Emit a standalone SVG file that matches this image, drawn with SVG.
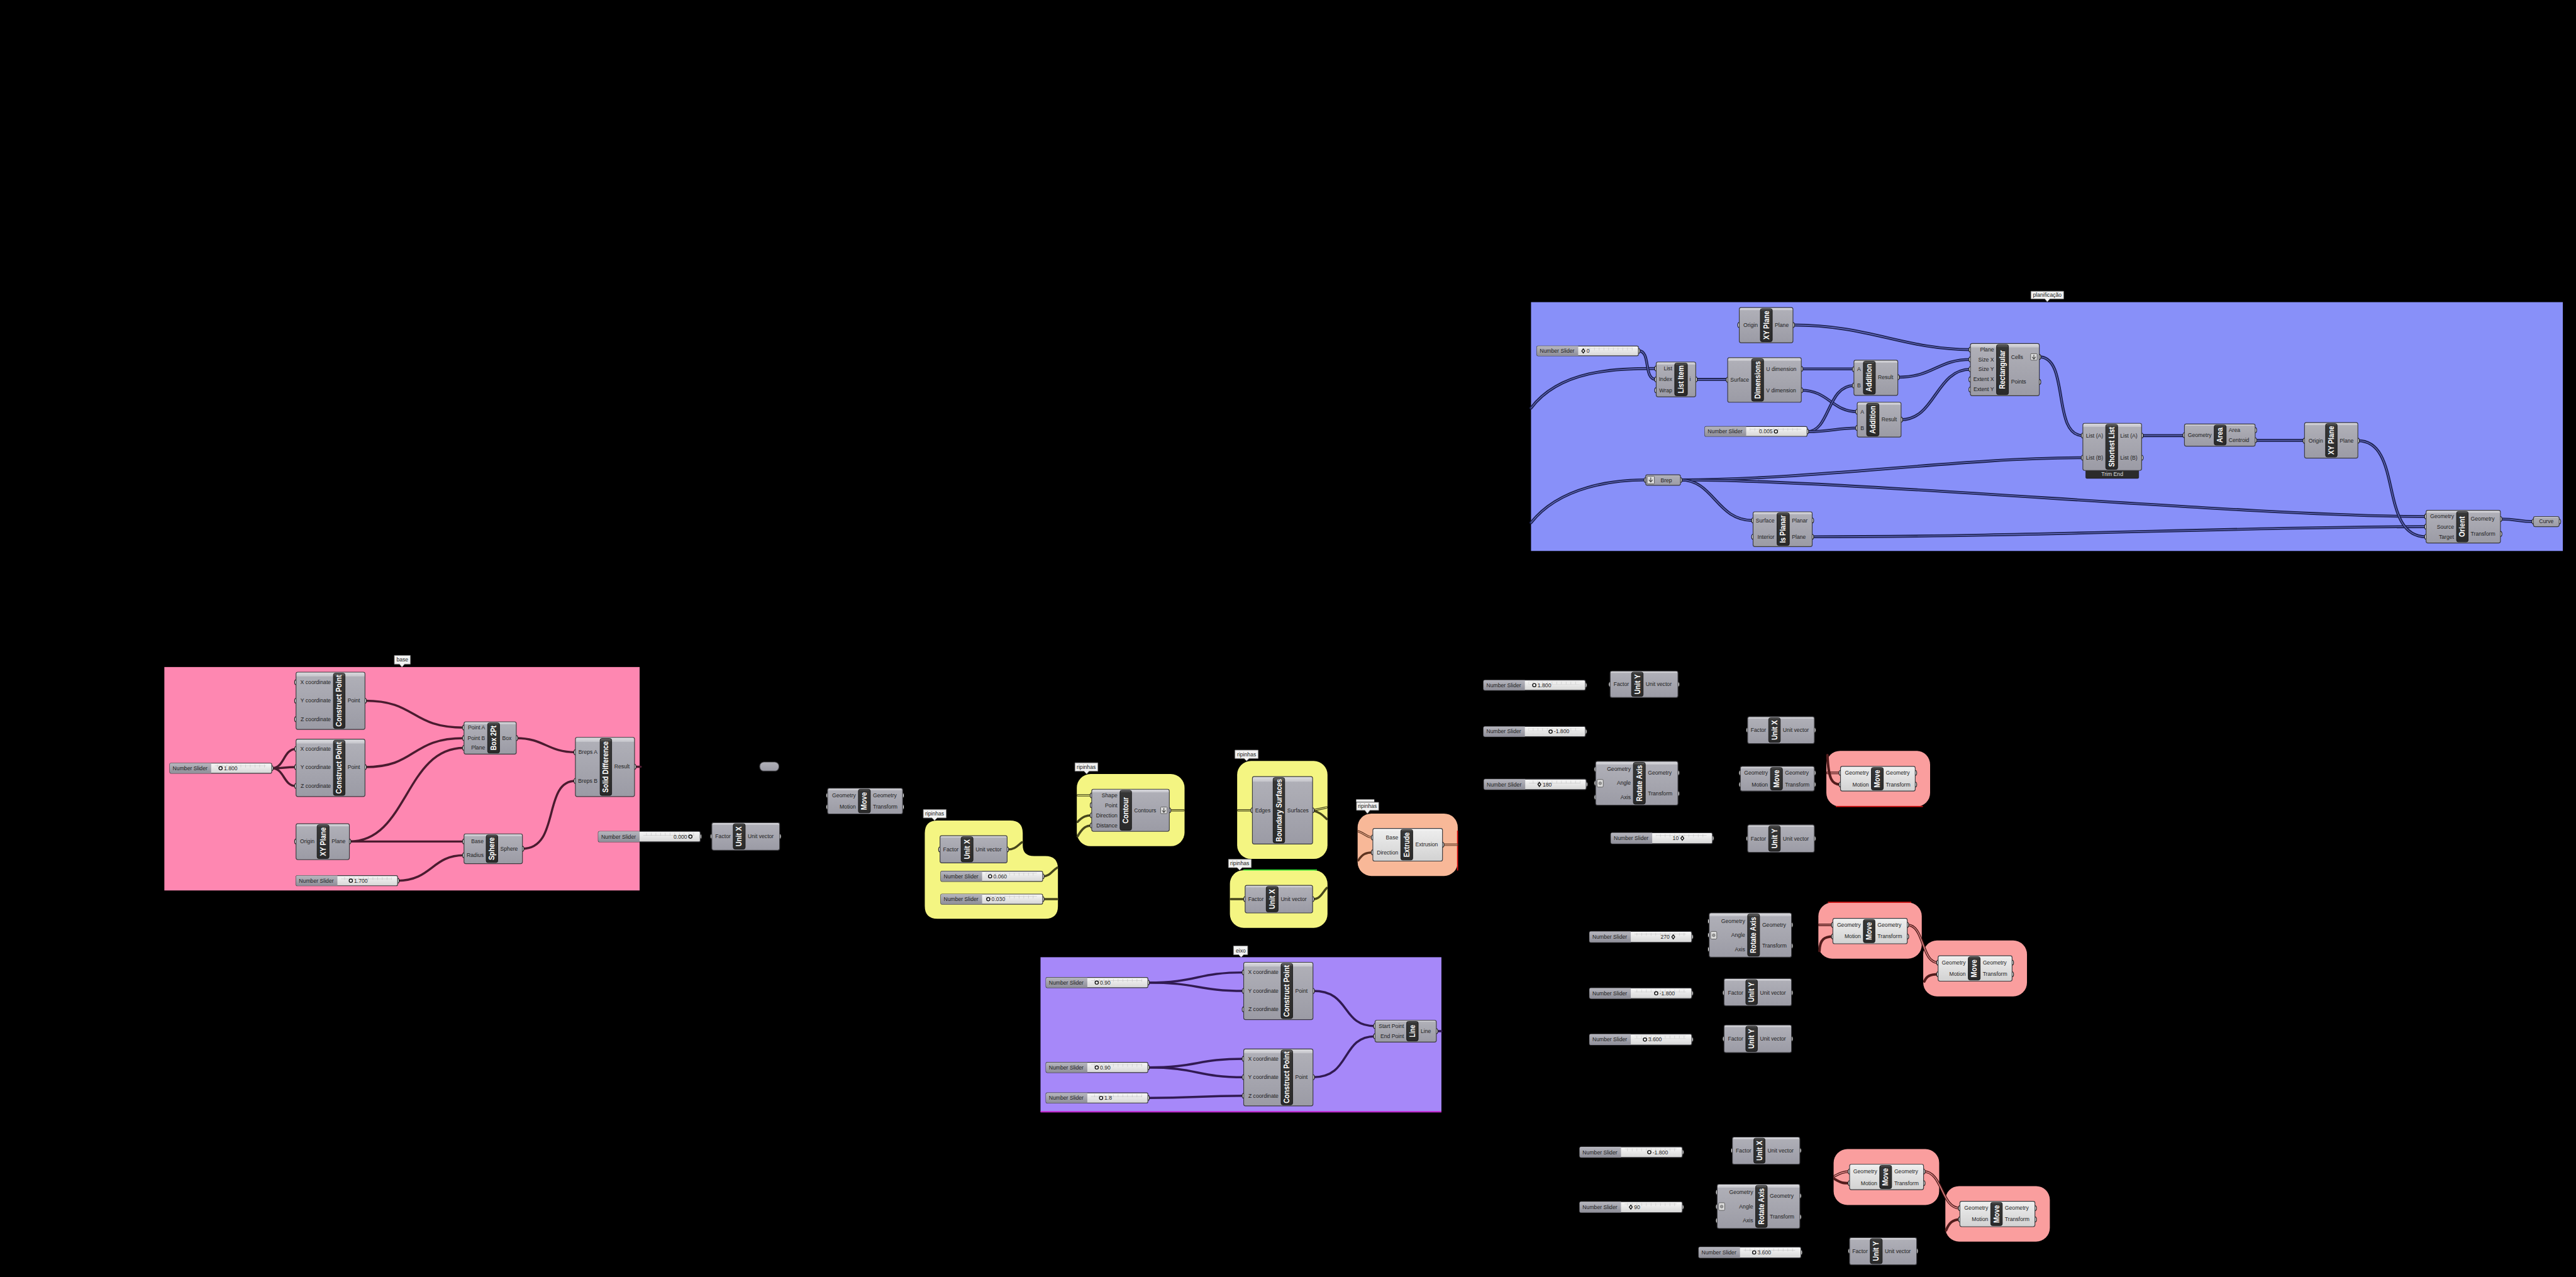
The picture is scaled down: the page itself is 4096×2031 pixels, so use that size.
<svg xmlns="http://www.w3.org/2000/svg" width="4096" height="2031" viewBox="0 0 4096 2031">
<defs>
<linearGradient id="gN" x1="0" y1="0" x2="0" y2="1"><stop offset="0" stop-color="#dedee2"/><stop offset="0.07" stop-color="#c6c6cc"/><stop offset="0.08" stop-color="#afafb7"/><stop offset="1" stop-color="#9b9ba5"/></linearGradient>
<linearGradient id="gL" x1="0" y1="0" x2="0" y2="1"><stop offset="0" stop-color="#fbfbfb"/><stop offset="0.08" stop-color="#ececec"/><stop offset="1" stop-color="#d2d2d2"/></linearGradient>
<linearGradient id="gB" x1="0" y1="0" x2="0" y2="1"><stop offset="0" stop-color="#6a6a6a"/><stop offset="0.06" stop-color="#363636"/><stop offset="1" stop-color="#2a2a2a"/></linearGradient>
<linearGradient id="gV" x1="0" y1="0" x2="0" y2="1"><stop offset="0" stop-color="#f8f8f8"/><stop offset="1" stop-color="#d6d6d6"/></linearGradient>
<linearGradient id="gS" x1="0" y1="0" x2="0" y2="1"><stop offset="0" stop-color="#b6b6be"/><stop offset="1" stop-color="#8e8e98"/></linearGradient>
<pattern id="tk" width="13" height="8" patternUnits="userSpaceOnUse"><path d="M0.5,0 V8 M0,7.5 H13" stroke="#b4b4b4" stroke-width="1" fill="none"/></pattern>
<style>
text{font-family:"Liberation Sans",Arial,sans-serif}
.pl{font-size:15px;fill:#1e1e1e}
.pr{font-size:15px;fill:#1e1e1e;text-anchor:end}
.pc{font-size:15px;fill:#1e1e1e;text-anchor:middle}
.bt{font-size:21px;font-weight:bold;fill:#fff;text-anchor:middle}
.tg{font-size:15px;fill:#222;text-anchor:middle}
.nb{fill:url(#gN);stroke:#3a3a3e;stroke-width:2}
.nl{fill:url(#gL);stroke:#3a3a3e;stroke-width:2}
.bar{fill:url(#gB);stroke:#141414;stroke-width:1.5}
.pt{fill:#fff;stroke:#1a1a1a;stroke-width:2}
.sv{fill:url(#gV);stroke:#3a3a3e;stroke-width:2}
.sl{fill:url(#gS)}
.tkr{fill:url(#tk)}
.mk{fill:#fff;stroke:#111;stroke-width:2.5}
.tag{fill:#f2f2f2;stroke:#8a8a8a;stroke-width:1.5}
.ico{fill:#dadada;stroke:#555;stroke-width:1.5}
.arr{fill:none;stroke:#444;stroke-width:2}
.w{fill:none;stroke-linecap:round}
.wp{stroke:#4a1b2f;stroke-width:6}
.wbo{stroke:#1f2452;stroke-width:8}
.wbi{stroke:#7078d8;stroke-width:1.8}
.wu{stroke:#311a52;stroke-width:6}
.wy{stroke:#46461c;stroke-width:6}
.wyi{stroke:#f4f582;stroke-width:2}
.wr{stroke:#521c1c;stroke-width:7}
.wri{stroke:#fa9e9e;stroke-width:2}
.ws{stroke:#5e3420;stroke-width:6}
.wsi{stroke:#f8b898;stroke-width:2}
</style>
</defs>
<rect x="0" y="0" width="4096" height="2031" fill="#000"/>
<g transform="scale(0.57688)">

<!-- GROUP BACKGROUNDS -->
<g id="groups">
<rect id="grp_planificacao" x="4220" y="833" width="2844" height="686" fill="#8890f9"/>
<rect id="grp_base" x="453" y="1839" width="1310" height="616" fill="#fe87b1"/>
<rect id="grp_eixo" x="2868" y="2639" width="1105" height="426" fill="#a688f9"/>
<rect x="2868" y="3063" width="1105" height="4" fill="#c030d0"/>
<path id="grp_ripinhas1" d="M2584,2262 H2784 Q2819,2262 2819,2297 V2330 Q2819,2360 2850,2360 H2881 Q2916,2360 2916,2395 V2498 Q2916,2533 2881,2533 H2584 Q2549,2533 2549,2498 V2297 Q2549,2262 2584,2262 Z" fill="#f4f582"/>
<rect id="grp_ripinhas2" x="2968" y="2134" width="297" height="199" rx="38" fill="#f4f582"/>
<rect id="grp_ripinhas3" x="3410" y="2098" width="249" height="270" rx="38" fill="#f4f582"/>
<rect id="grp_ripinhas4" x="3390" y="2399" width="269" height="159" rx="38" fill="#f4f582"/>
<rect x="3427" y="2397" width="203" height="3" fill="#30e030"/>
<rect id="grp_ripinhas5" x="3742" y="2243" width="276" height="172" rx="38" fill="#f8b898"/>
<rect x="4016" y="2290" width="3" height="110" fill="#e01010"/>
<rect id="grp_red1" x="5034" y="2070" width="286" height="154" rx="38" fill="#fa9e9e"/>
<rect x="5060" y="2222" width="240" height="3" fill="#d01010"/>
<rect id="grp_red2" x="5012" y="2488" width="285" height="155" rx="38" fill="#fa9e9e"/>
<rect x="5038" y="2486" width="230" height="3" fill="#d01010"/>
<rect id="grp_red3" x="5301" y="2593" width="286" height="154" rx="38" fill="#fa9e9e"/>
<rect id="grp_red4" x="5054" y="3168" width="291" height="154" rx="38" fill="#fa9e9e"/>
<rect id="grp_red5" x="5362" y="3270" width="288" height="153" rx="38" fill="#fa9e9e"/>
</g>

<!-- GROUP TAGS -->
<g id="tags">
<g id="tag_planificacao"><path class="tag" d="M5598,803 H5688 V824 H5650 L5643,832 L5636,824 H5598 Z"/><text class="tg" x="5643" y="819">planificação</text></g>
<g id="tag_base"><path class="tag" d="M1087,1807 H1131 V1831 H1115 L1108,1839 L1101,1831 H1087 Z"/><text class="tg" x="1109" y="1824">base</text></g>
<g id="tag_rip1"><path class="tag" d="M2545,2232 H2608 V2255 H2583 L2576,2262 L2569,2255 H2545 Z"/><text class="tg" x="2576" y="2249">ripinhas</text></g>
<g id="tag_rip2"><path class="tag" d="M2963,2103 H3026 V2126 H3002 L2995,2134 L2988,2126 H2963 Z"/><text class="tg" x="2994" y="2120">ripinhas</text></g>
<g id="tag_rip3"><path class="tag" d="M3404,2068 H3468 V2091 H3443 L3436,2098 L3429,2091 H3404 Z"/><text class="tg" x="3436" y="2085">ripinhas</text></g>
<g id="tag_rip4"><path class="tag" d="M3386,2369 H3449 V2392 H3424 L3417,2399 L3410,2392 H3386 Z"/><text class="tg" x="3417" y="2386">ripinhas</text></g>
<g id="tag_rip5"><rect x="3738" y="2204" width="50" height="7" fill="#eee"/><path class="tag" d="M3739,2212 H3800 V2234 H3776 L3769,2243 L3762,2234 H3739 Z"/><text class="tg" x="3769" y="2228">ripinhas</text></g>
<g id="tag_eixo"><path class="tag" d="M3400,2608 H3439 V2632 H3428 L3421,2639 L3414,2632 H3400 Z"/><text class="tg" x="3420" y="2626">eixo</text></g>
</g>

<!-- CONNECTORS -->
<g id="connectors" class="w">
<path class="w wbo" d="M4220,1125 C4300,1020 4450,1016 4565,1016"/><path class="w wbi" d="M4220,1125 C4300,1020 4450,1016 4565,1016"/>
<path class="w wbo" d="M4516,967 C4552,967 4528,1046 4565,1046"/><path class="w wbi" d="M4516,967 C4552,967 4528,1046 4565,1046"/>
<path class="w wbo" d="M4674,1046 H4762"/><path class="w wbi" d="M4674,1046 H4762"/>
<path class="w wbo" d="M4965,1017 H5110"/><path class="w wbi" d="M4965,1017 H5110"/>
<path class="w wbo" d="M4965,1076 C5040,1076 5050,1135 5119,1135"/><path class="w wbi" d="M4965,1076 C5040,1076 5050,1135 5119,1135"/>
<path class="w wbo" d="M4981,1190 C5045,1190 5035,1063 5110,1063"/><path class="w wbi" d="M4981,1190 C5045,1190 5035,1063 5110,1063"/>
<path class="w wbo" d="M4981,1190 C5050,1190 5060,1180 5119,1180"/><path class="w wbi" d="M4981,1190 C5050,1190 5060,1180 5119,1180"/>
<path class="w wbo" d="M4942,896 C5150,896 5250,964 5432,964"/><path class="w wbi" d="M4942,896 C5150,896 5250,964 5432,964"/>
<path class="w wbo" d="M5231,1040 C5330,1040 5340,991 5432,991"/><path class="w wbi" d="M5231,1040 C5330,1040 5340,991 5432,991"/>
<path class="w wbo" d="M5240,1157 C5335,1157 5335,1018 5432,1018"/><path class="w wbi" d="M5240,1157 C5335,1157 5335,1018 5432,1018"/>
<path class="w wbo" d="M5621,984 C5705,984 5655,1201 5741,1201"/><path class="w wbi" d="M5621,984 C5705,984 5655,1201 5741,1201"/>
<path class="w wbo" d="M4632,1323 C5000,1323 5400,1262 5741,1262"/><path class="w wbi" d="M4632,1323 C5000,1323 5400,1262 5741,1262"/>
<path class="w wbo" d="M4632,1323 C5100,1323 6200,1424 6687,1424"/><path class="w wbi" d="M4632,1323 C5100,1323 6200,1424 6687,1424"/>
<path class="w wbo" d="M4632,1323 C4725,1323 4730,1435 4832,1435"/><path class="w wbi" d="M4632,1323 C4725,1323 4730,1435 4832,1435"/>
<path class="w wbo" d="M4220,1441 C4300,1340 4450,1323 4536,1323"/><path class="w wbi" d="M4220,1441 C4300,1340 4450,1323 4536,1323"/>
<path class="w wbo" d="M4995,1480 C5600,1480 6200,1452 6687,1452"/><path class="w wbi" d="M4995,1480 C5600,1480 6200,1452 6687,1452"/>
<path class="w wbo" d="M5903,1201 H6021"/><path class="w wbi" d="M5903,1201 H6021"/>
<path class="w wbo" d="M6216,1214 H6352"/><path class="w wbi" d="M6216,1214 H6352"/>
<path class="w wbo" d="M6499,1215 C6625,1215 6555,1480 6687,1480"/><path class="w wbi" d="M6499,1215 C6625,1215 6555,1480 6687,1480"/>
<path class="w wbo" d="M6892,1431 C6940,1431 6940,1438 6983,1438"/><path class="w wbi" d="M6892,1431 C6940,1431 6940,1438 6983,1438"/>
<path class="w wp" d="M749,2118 C785,2118 780,2065 816,2065"/>
<path class="w wp" d="M749,2118 C785,2118 780,2115 816,2115"/>
<path class="w wp" d="M749,2118 C785,2118 780,2167 816,2167"/>
<path class="w wp" d="M1006,1932 C1150,1932 1130,2006 1279,2006"/>
<path class="w wp" d="M1006,2115 C1150,2115 1130,2035 1279,2035"/>
<path class="w wp" d="M963,2320 C1125,2320 1115,2062 1279,2062"/>
<path class="w wp" d="M963,2320 H1279"/>
<path class="w wp" d="M1096,2428 C1190,2428 1190,2358 1279,2358"/>
<path class="w wp" d="M1423,2035 C1500,2035 1510,2074 1586,2074"/>
<path class="w wp" d="M1440,2340 C1545,2340 1495,2153 1586,2153"/>
<path class="w wp" d="M1749,2114 H1766"/>
<path class="w wu" d="M3164,2709 C3300,2709 3300,2681 3428,2681"/>
<path class="w wu" d="M3164,2709 C3300,2709 3300,2732 3428,2732"/>
<path class="w wu" d="M3164,2943 C3300,2943 3300,2919 3428,2919"/>
<path class="w wu" d="M3164,2943 C3300,2943 3300,2970 3428,2970"/>
<path class="w wu" d="M3164,3027 C3300,3027 3300,3021 3428,3021"/>
<path class="w wu" d="M3619,2732 C3725,2732 3695,2829 3790,2829"/>
<path class="w wu" d="M3619,2970 C3725,2970 3695,2857 3790,2857"/>
<path class="w wu" d="M3959,2843 H3973"/>
<path class="w wy" d="M2776,2342 C2800,2342 2805,2330 2817,2322"/>
<path class="w wy" d="M2874,2416 C2895,2416 2900,2400 2914,2392"/>
<path class="w wy" d="M2874,2479 H2914"/>
<path class="w wy" d="M2970,2193 H3009"/><path class="w wyi" d="M2970,2193 H3009"/>
<path class="w wy" d="M2970,2266 C2985,2250 2995,2248 3009,2248"/>
<path class="w wy" d="M2970,2306 C2985,2280 2995,2276 3009,2276"/>
<path class="w wy" d="M3223,2234 H3263"/><path class="w wyi" d="M3223,2234 H3263"/>
<path class="w wy" d="M3412,2234 H3452"/><path class="w wyi" d="M3412,2234 H3452"/>
<path class="w wy" d="M3618,2234 C3640,2230 3648,2228 3657,2226"/><path class="w wyi" d="M3618,2234 C3640,2230 3648,2228 3657,2226"/>
<path class="w wy" d="M3618,2234 C3640,2240 3648,2250 3657,2258"/>
<path class="w wy" d="M3392,2479 H3432"/>
<path class="w wy" d="M3618,2479 C3640,2479 3645,2460 3657,2448"/>
<path class="w ws" d="M3744,2292 C3765,2300 3770,2309 3784,2309"/><path class="w wsi" d="M3744,2292 C3765,2300 3770,2309 3784,2309"/>
<path class="w ws" d="M3744,2372 C3755,2355 3765,2350 3784,2350"/>
<path class="w ws" d="M3976,2329 H4016"/><path class="w wsi" d="M3976,2329 H4016"/>
<path class="w wr" d="M5036,2131 H5073"/><path class="w wri" d="M5036,2131 H5073"/>
<path class="w wr" d="M5037,2082 C5040,2150 5050,2163 5073,2163"/>
<path class="w wr" d="M5014,2550 H5052"/><path class="w wri" d="M5014,2550 H5052"/>
<path class="w wr" d="M5015,2622 C5016,2588 5030,2582 5052,2582"/>
<path class="w wr" d="M5257,2550 C5305,2550 5295,2654 5342,2654"/><path class="w wri" d="M5257,2550 C5305,2550 5295,2654 5342,2654"/>
<path class="w wr" d="M5304,2706 C5310,2690 5322,2686 5342,2686"/>
<path class="w wr" d="M5056,3243 C5072,3234 5082,3230 5098,3230"/><path class="w wri" d="M5056,3243 C5072,3234 5082,3230 5098,3230"/>
<path class="w wr" d="M5056,3250 C5075,3262 5082,3262 5098,3262"/>
<path class="w wr" d="M5302,3230 C5355,3230 5350,3331 5402,3331"/><path class="w wri" d="M5302,3230 C5355,3230 5350,3331 5402,3331"/>
<path class="w wr" d="M5364,3392 C5372,3372 5382,3362 5402,3362"/>
</g>

<!-- NODES -->
<g id="nodes">
<g id="xy_plane_1">
<ellipse class="pt" cx="4794" cy="896" rx="4" ry="7"/><ellipse class="pt" cx="4942" cy="896" rx="4" ry="7"/>
<rect class="nb" x="4794" y="848" width="148" height="97" rx="5"/>
<rect class="bar" x="4852" y="851" width="33" height="91" rx="5"/>
<text class="bt" transform="translate(4868.5,896.5) rotate(-90)" y="7" textLength="79" lengthAdjust="spacingAndGlyphs">XY Plane</text>
<text class="pr" x="4845" y="901">Origin</text><text class="pl" x="4892" y="901">Plane</text>
</g>
<g id="slider_b0">
<ellipse class="pt" cx="4516" cy="967.5" rx="4" ry="7"/>
<rect class="sv" x="4236" y="954" width="280" height="27" rx="4"/>
<path class="sl" d="M4240,954 H4350 V981 H4240 A4,4 0 0 1 4236,977 V958 A4,4 0 0 1 4240,954 Z"/>
<text class="pl" x="4244" y="973">Number Slider</text>
<rect class="tkr" x="4360" y="958" width="140" height="8"/>
<path class="mk" d="M4364,962 L4368,967.5 L4364,973 L4360,967.5 Z"/>
<text class="pl" x="4373" y="973">0</text>
</g>
<g id="list_item">
<ellipse class="pt" cx="4565" cy="1016" rx="4" ry="7"/><ellipse class="pt" cx="4565" cy="1046" rx="4" ry="7"/><ellipse class="pt" cx="4565" cy="1076" rx="4" ry="7"/><ellipse class="pt" cx="4674" cy="1046" rx="4" ry="7"/>
<rect class="nb" x="4565" y="998" width="109" height="96" rx="5"/>
<rect class="bar" x="4616" y="1001" width="35" height="90" rx="5"/>
<text class="bt" transform="translate(4633.5,1046) rotate(-90)" y="7" textLength="77" lengthAdjust="spacingAndGlyphs">List Item</text>
<text class="pr" x="4609" y="1021">List</text><text class="pr" x="4609" y="1051">Index</text><text class="pr" x="4609" y="1081">Wrap</text>
<text class="pl" x="4657" y="1051">i</text>
</g>
<g id="dimensions">
<ellipse class="pt" cx="4762" cy="1047" rx="4" ry="7"/><ellipse class="pt" cx="4965" cy="1017" rx="4" ry="7"/><ellipse class="pt" cx="4965" cy="1076" rx="4" ry="7"/>
<rect class="nb" x="4762" y="986" width="203" height="123" rx="5"/>
<rect class="bar" x="4828" y="989" width="33" height="117" rx="5"/>
<text class="bt" transform="translate(4844.5,1047.5) rotate(-90)" y="7" textLength="104" lengthAdjust="spacingAndGlyphs">Dimensions</text>
<text class="pr" x="4821" y="1052">Surface</text>
<text class="pl" x="4868" y="1022">U dimension</text><text class="pl" x="4868" y="1081">V dimension</text>
</g>
<g id="addition_1">
<ellipse class="pt" cx="5110" cy="1018" rx="4" ry="7"/><ellipse class="pt" cx="5110" cy="1063" rx="4" ry="7"/><ellipse class="pt" cx="5231" cy="1040" rx="4" ry="7"/>
<rect class="nb" x="5110" y="993" width="121" height="97" rx="5"/>
<rect class="bar" x="5136" y="996" width="33" height="91" rx="5"/>
<text class="bt" transform="translate(5152.5,1041.5) rotate(-90)" y="7" textLength="77" lengthAdjust="spacingAndGlyphs">Addition</text>
<text class="pr" x="5129" y="1023">A</text><text class="pr" x="5129" y="1068">B</text>
<text class="pl" x="5176" y="1045">Result</text>
</g>
<g id="addition_2">
<ellipse class="pt" cx="5119" cy="1135" rx="4" ry="7"/><ellipse class="pt" cx="5119" cy="1180" rx="4" ry="7"/><ellipse class="pt" cx="5240" cy="1157" rx="4" ry="7"/>
<rect class="nb" x="5119" y="1109" width="121" height="96" rx="5"/>
<rect class="bar" x="5145" y="1112" width="34" height="90" rx="5"/>
<text class="bt" transform="translate(5162,1157) rotate(-90)" y="7" textLength="77" lengthAdjust="spacingAndGlyphs">Addition</text>
<text class="pr" x="5138" y="1140">A</text><text class="pr" x="5138" y="1185">B</text>
<text class="pl" x="5186" y="1162">Result</text>
</g>
<g id="slider_b005">
<ellipse class="pt" cx="4981" cy="1189.5" rx="4" ry="7"/>
<rect class="sv" x="4699" y="1176" width="282" height="27" rx="4"/>
<path class="sl" d="M4703,1176 H4813 V1203 H4703 A4,4 0 0 1 4699,1199 V1180 A4,4 0 0 1 4703,1176 Z"/>
<text class="pl" x="4707" y="1195">Number Slider</text>
<rect class="tkr" x="4823" y="1180" width="142" height="8"/>
<circle class="mk" cx="4895" cy="1189.5" r="4.5"/>
<text class="pr" x="4886" y="1195">0.005</text>
</g>
<g id="rectangular">
<ellipse class="pt" cx="5431" cy="964" rx="4" ry="7"/><ellipse class="pt" cx="5431" cy="991" rx="4" ry="7"/><ellipse class="pt" cx="5431" cy="1018" rx="4" ry="7"/><ellipse class="pt" cx="5431" cy="1046" rx="4" ry="7"/><ellipse class="pt" cx="5431" cy="1074" rx="4" ry="7"/><ellipse class="pt" cx="5621" cy="984" rx="4" ry="7"/><ellipse class="pt" cx="5621" cy="1053" rx="4" ry="7"/>
<rect class="nb" x="5431" y="947" width="190" height="144" rx="5"/>
<rect class="bar" x="5503" y="950" width="33" height="138" rx="5"/>
<text class="bt" transform="translate(5519.5,1019) rotate(-90)" y="7" textLength="107" lengthAdjust="spacingAndGlyphs">Rectangular</text>
<text class="pr" x="5496" y="969">Plane</text><text class="pr" x="5496" y="996">Size X</text><text class="pr" x="5496" y="1023">Size Y</text><text class="pr" x="5496" y="1051">Extent X</text><text class="pr" x="5496" y="1079">Extent Y</text>
<text class="pl" x="5543" y="989">Cells</text><text class="pl" x="5543" y="1058">Points</text>
<rect class="ico" x="5597" y="975" width="18" height="18" rx="2"/><path class="arr" d="M5606,978 V989 M5601,984 L5606,990 L5611,984"/>
</g>
<g id="brep_param">
<ellipse class="pt" cx="4536" cy="1323.5" rx="4" ry="7"/><ellipse class="pt" cx="4632" cy="1323.5" rx="4" ry="7"/>
<rect class="nb" x="4536" y="1309" width="96" height="29" rx="5"/>
<rect class="ico" x="4540" y="1313" width="20" height="21" rx="2"/><path class="arr" d="M4550,1316 V1328 M4545,1323 L4550,1329 L4555,1323"/>
<text class="pl" x="4577" y="1329">Brep</text>
</g>
<g id="is_planar">
<ellipse class="pt" cx="4832" cy="1435" rx="4" ry="7"/><ellipse class="pt" cx="4832" cy="1480" rx="4" ry="7"/><ellipse class="pt" cx="4995" cy="1435" rx="4" ry="7"/><ellipse class="pt" cx="4995" cy="1480" rx="4" ry="7"/>
<rect class="nb" x="4832" y="1411" width="163" height="96" rx="5"/>
<rect class="bar" x="4898" y="1414" width="34" height="90" rx="5"/>
<text class="bt" transform="translate(4915,1459) rotate(-90)" y="7" textLength="76" lengthAdjust="spacingAndGlyphs">Is Planar</text>
<text class="pr" x="4891" y="1440">Surface</text><text class="pr" x="4891" y="1485">Interior</text>
<text class="pl" x="4939" y="1440">Planar</text><text class="pl" x="4939" y="1485">Plane</text>
</g>
<g id="shortest_list">
<ellipse class="pt" cx="5741" cy="1201" rx="4" ry="7"/><ellipse class="pt" cx="5741" cy="1262" rx="4" ry="7"/><ellipse class="pt" cx="5903" cy="1201" rx="4" ry="7"/><ellipse class="pt" cx="5903" cy="1262" rx="4" ry="7"/>
<rect x="5749" y="1290" width="146" height="29" rx="3" fill="#2b2b2b" stroke="#111"/>
<text x="5822" y="1313" font-size="15" fill="#dcdcdc" text-anchor="middle">Trim End</text>
<rect class="nb" x="5741" y="1167" width="162" height="130" rx="5"/>
<rect class="bar" x="5804" y="1170" width="33" height="124" rx="5"/>
<text class="bt" transform="translate(5820.5,1232) rotate(-90)" y="7" textLength="110" lengthAdjust="spacingAndGlyphs">Shortest List</text>
<text class="pr" x="5797" y="1206">List (A)</text><text class="pr" x="5797" y="1267">List (B)</text>
<text class="pl" x="5844" y="1206">List (A)</text><text class="pl" x="5844" y="1267">List (B)</text>
</g>
<g id="area">
<ellipse class="pt" cx="6021" cy="1200" rx="4" ry="7"/><ellipse class="pt" cx="6216" cy="1186" rx="4" ry="7"/><ellipse class="pt" cx="6216" cy="1214" rx="4" ry="7"/>
<rect class="nb" x="6021" y="1169" width="195" height="61" rx="5"/>
<rect class="bar" x="6103" y="1172" width="33" height="55" rx="5"/>
<text class="bt" transform="translate(6119.5,1199.5) rotate(-90)" y="7" textLength="42" lengthAdjust="spacingAndGlyphs">Area</text>
<text class="pr" x="6096" y="1205">Geometry</text>
<text class="pl" x="6143" y="1191">Area</text><text class="pl" x="6143" y="1219">Centroid</text>
</g>
<g id="xy_plane_2">
<ellipse class="pt" cx="6352" cy="1215" rx="4" ry="7"/><ellipse class="pt" cx="6499" cy="1215" rx="4" ry="7"/>
<rect class="nb" x="6352" y="1165" width="147" height="98" rx="5"/>
<rect class="bar" x="6410" y="1168" width="32" height="92" rx="5"/>
<text class="bt" transform="translate(6426,1214) rotate(-90)" y="7" textLength="79" lengthAdjust="spacingAndGlyphs">XY Plane</text>
<text class="pr" x="6403" y="1220">Origin</text><text class="pl" x="6449" y="1220">Plane</text>
</g>
<g id="orient">
<ellipse class="pt" cx="6687" cy="1424" rx="4" ry="7"/><ellipse class="pt" cx="6687" cy="1452" rx="4" ry="7"/><ellipse class="pt" cx="6687" cy="1480" rx="4" ry="7"/><ellipse class="pt" cx="6892" cy="1431" rx="4" ry="7"/><ellipse class="pt" cx="6892" cy="1472" rx="4" ry="7"/>
<rect class="nb" x="6687" y="1407" width="205" height="90" rx="5"/>
<rect class="bar" x="6771" y="1410" width="32" height="84" rx="5"/>
<text class="bt" transform="translate(6787,1452) rotate(-90)" y="7" textLength="57" lengthAdjust="spacingAndGlyphs">Orient</text>
<text class="pr" x="6764" y="1429">Geometry</text><text class="pr" x="6764" y="1457">Source</text><text class="pr" x="6764" y="1485">Target</text>
<text class="pl" x="6810" y="1436">Geometry</text><text class="pl" x="6810" y="1477">Transform</text>
</g>
<g id="curve_param">
<ellipse class="pt" cx="6983" cy="1438" rx="4" ry="7"/><ellipse class="pt" cx="7054" cy="1438" rx="4" ry="7"/>
<rect class="nb" x="6983" y="1424" width="71" height="28" rx="5"/>
<text class="pc" x="7018.5" y="1443">Curve</text>
</g>

<g id="construct_point_1">
<ellipse class="pt" cx="816" cy="1881" rx="4" ry="7"/><ellipse class="pt" cx="816" cy="1932" rx="4" ry="7"/><ellipse class="pt" cx="816" cy="1983" rx="4" ry="7"/><ellipse class="pt" cx="1006" cy="1932" rx="4" ry="7"/>
<rect class="nb" x="816" y="1853" width="190" height="158" rx="5"/>
<rect class="bar" x="919" y="1856" width="32" height="152" rx="5"/>
<text class="bt" transform="translate(935,1932) rotate(-90)" y="7" textLength="143" lengthAdjust="spacingAndGlyphs">Construct Point</text>
<text class="pr" x="912" y="1886">X coordinate</text><text class="pr" x="912" y="1937">Y coordinate</text><text class="pr" x="912" y="1988">Z coordinate</text>
<text class="pl" x="958" y="1937">Point</text>
</g>
<g id="construct_point_2">
<ellipse class="pt" cx="816" cy="2065" rx="4" ry="7"/><ellipse class="pt" cx="816" cy="2115" rx="4" ry="7"/><ellipse class="pt" cx="816" cy="2167" rx="4" ry="7"/><ellipse class="pt" cx="1006" cy="2115" rx="4" ry="7"/>
<rect class="nb" x="816" y="2038" width="190" height="158" rx="5"/>
<rect class="bar" x="919" y="2041" width="32" height="152" rx="5"/>
<text class="bt" transform="translate(935,2117) rotate(-90)" y="7" textLength="143" lengthAdjust="spacingAndGlyphs">Construct Point</text>
<text class="pr" x="912" y="2070">X coordinate</text><text class="pr" x="912" y="2120">Y coordinate</text><text class="pr" x="912" y="2172">Z coordinate</text>
<text class="pl" x="958" y="2120">Point</text>
</g>
<g id="slider_p18">
<ellipse class="pt" cx="749" cy="2118" rx="4" ry="7"/>
<rect class="sv" x="468" y="2104" width="281" height="28" rx="4"/>
<path class="sl" d="M472,2104 H582 V2132 H472 A4,4 0 0 1 468,2128 V2108 A4,4 0 0 1 472,2104 Z"/>
<text class="pl" x="476" y="2123">Number Slider</text>
<rect class="tkr" x="592" y="2108" width="141" height="8"/>
<circle class="mk" cx="608" cy="2118" r="4.5"/>
<text class="pl" x="617" y="2123">1.800</text>
</g>
<g id="box_2pt">
<ellipse class="pt" cx="1279" cy="2006" rx="4" ry="7"/><ellipse class="pt" cx="1279" cy="2035" rx="4" ry="7"/><ellipse class="pt" cx="1279" cy="2062" rx="4" ry="7"/><ellipse class="pt" cx="1423" cy="2035" rx="4" ry="7"/>
<rect class="nb" x="1279" y="1990" width="144" height="89" rx="5"/>
<rect class="bar" x="1344" y="1993" width="33" height="83" rx="5"/>
<text class="bt" transform="translate(1360.5,2034.5) rotate(-90)" y="7" textLength="68" lengthAdjust="spacingAndGlyphs">Box 2Pt</text>
<text class="pr" x="1337" y="2011">Point A</text><text class="pr" x="1337" y="2040">Point B</text><text class="pr" x="1337" y="2067">Plane</text>
<text class="pl" x="1384" y="2040">Box</text>
</g>
<g id="solid_difference">
<ellipse class="pt" cx="1586" cy="2074" rx="4" ry="7"/><ellipse class="pt" cx="1586" cy="2153" rx="4" ry="7"/><ellipse class="pt" cx="1749" cy="2114" rx="4" ry="7"/>
<rect class="nb" x="1586" y="2033" width="163" height="163" rx="5"/>
<rect class="bar" x="1654" y="2036" width="32" height="157" rx="5"/>
<text class="bt" transform="translate(1670,2114.5) rotate(-90)" y="7" textLength="141" lengthAdjust="spacingAndGlyphs">Solid Difference</text>
<text class="pr" x="1647" y="2079">Breps A</text><text class="pr" x="1647" y="2158">Breps B</text>
<text class="pl" x="1693" y="2119">Result</text>
</g>
<g id="xy_plane_3">
<ellipse class="pt" cx="816" cy="2320" rx="4" ry="7"/><ellipse class="pt" cx="963" cy="2320" rx="4" ry="7"/>
<rect class="nb" x="816" y="2271" width="147" height="99" rx="5"/>
<rect class="bar" x="874" y="2274" width="33" height="93" rx="5"/>
<text class="bt" transform="translate(890.5,2320.5) rotate(-90)" y="7" textLength="79" lengthAdjust="spacingAndGlyphs">XY Plane</text>
<text class="pr" x="867" y="2325">Origin</text><text class="pl" x="914" y="2325">Plane</text>
</g>
<g id="sphere">
<ellipse class="pt" cx="1279" cy="2320" rx="4" ry="7"/><ellipse class="pt" cx="1279" cy="2358" rx="4" ry="7"/><ellipse class="pt" cx="1440" cy="2340" rx="4" ry="7"/>
<rect class="nb" x="1279" y="2299" width="161" height="82" rx="5"/>
<rect class="bar" x="1340" y="2302" width="32" height="76" rx="5"/>
<text class="bt" transform="translate(1356,2340) rotate(-90)" y="7" textLength="63" lengthAdjust="spacingAndGlyphs">Sphere</text>
<text class="pr" x="1333" y="2325">Base</text><text class="pr" x="1333" y="2363">Radius</text>
<text class="pl" x="1379" y="2345">Sphere</text>
</g>
<g id="slider_p17">
<ellipse class="pt" cx="1096" cy="2428" rx="4" ry="7"/>
<rect class="sv" x="816" y="2414" width="280" height="28" rx="4"/>
<path class="sl" d="M820,2414 H930 V2442 H820 A4,4 0 0 1 816,2438 V2418 A4,4 0 0 1 820,2414 Z"/>
<text class="pl" x="824" y="2433">Number Slider</text>
<rect class="tkr" x="940" y="2418" width="140" height="8"/>
<circle class="mk" cx="967" cy="2428" r="4.5"/>
<text class="pl" x="976" y="2433">1.700</text>
</g>

<g id="slider_000">
<ellipse class="pt" cx="1930" cy="2306.5" rx="4" ry="7"/>
<rect class="sv" x="1649" y="2292" width="281" height="29" rx="4"/>
<path class="sl" d="M1653,2292 H1763 V2321 H1653 A4,4 0 0 1 1649,2317 V2296 A4,4 0 0 1 1653,2292 Z"/>
<text class="pl" x="1657" y="2312">Number Slider</text>
<rect class="tkr" x="1773" y="2296" width="141" height="8"/>
<circle class="mk" cx="1903" cy="2306.5" r="4.5"/>
<text class="pr" x="1894" y="2312">0.000</text>
</g>
<g id="unit_x_1">
<ellipse class="pt" cx="1962" cy="2306" rx="4" ry="7"/><ellipse class="pt" cx="2149" cy="2306" rx="4" ry="7"/>
<rect class="nb" x="1962" y="2268" width="187" height="76" rx="5"/>
<rect class="bar" x="2021" y="2271" width="33" height="70" rx="5"/>
<text class="bt" transform="translate(2037.5,2306) rotate(-90)" y="7" textLength="55" lengthAdjust="spacingAndGlyphs">Unit X</text>
<text class="pr" x="2014" y="2311">Factor</text><text class="pl" x="2061" y="2311">Unit vector</text>
</g>
<g id="empty_param">
<rect class="nb" x="2094" y="2101" width="53" height="25" rx="11"/>
</g>
<g id="move_1">
<ellipse class="pt" cx="2281" cy="2193" rx="4" ry="7"/><ellipse class="pt" cx="2281" cy="2225" rx="4" ry="7"/><ellipse class="pt" cx="2488" cy="2193" rx="4" ry="7"/><ellipse class="pt" cx="2488" cy="2225" rx="4" ry="7"/>
<rect class="nb" x="2281" y="2173" width="207" height="71" rx="5"/>
<rect class="bar" x="2366" y="2176" width="33" height="65" rx="5"/>
<text class="bt" transform="translate(2382.5,2208.5) rotate(-90)" y="7" textLength="49" lengthAdjust="spacingAndGlyphs">Move</text>
<text class="pr" x="2359" y="2198">Geometry</text><text class="pr" x="2359" y="2230">Motion</text>
<text class="pl" x="2406" y="2198">Geometry</text><text class="pl" x="2406" y="2230">Transform</text>
</g>

<g id="unit_x_2">
<ellipse class="pt" cx="2591" cy="2342" rx="4" ry="7"/><ellipse class="pt" cx="2776" cy="2342" rx="4" ry="7"/>
<rect class="nb" x="2591" y="2304" width="185" height="75" rx="5"/>
<rect class="bar" x="2649" y="2307" width="33" height="69" rx="5"/>
<text class="bt" transform="translate(2665.5,2341.5) rotate(-90)" y="7" textLength="55" lengthAdjust="spacingAndGlyphs">Unit X</text>
<text class="pr" x="2642" y="2347">Factor</text><text class="pl" x="2689" y="2347">Unit vector</text>
</g>
<g id="slider_060">
<ellipse class="pt" cx="2874" cy="2416" rx="4" ry="7"/>
<rect class="sv" x="2593" y="2402" width="281" height="28" rx="4"/>
<path class="sl" d="M2597,2402 H2707 V2430 H2597 A4,4 0 0 1 2593,2426 V2406 A4,4 0 0 1 2597,2402 Z"/>
<text class="pl" x="2601" y="2421">Number Slider</text>
<rect class="tkr" x="2717" y="2406" width="141" height="8"/>
<circle class="mk" cx="2729" cy="2416" r="4.5"/>
<text class="pl" x="2738" y="2421">0.060</text>
</g>
<g id="slider_030">
<ellipse class="pt" cx="2874" cy="2479" rx="4" ry="7"/>
<rect class="sv" x="2593" y="2465" width="281" height="28" rx="4"/>
<path class="sl" d="M2597,2465 H2707 V2493 H2597 A4,4 0 0 1 2593,2489 V2469 A4,4 0 0 1 2597,2465 Z"/>
<text class="pl" x="2601" y="2484">Number Slider</text>
<rect class="tkr" x="2717" y="2469" width="141" height="8"/>
<circle class="mk" cx="2724" cy="2479" r="4.5"/>
<text class="pl" x="2733" y="2484">0.030</text>
</g>
<g id="contour">
<ellipse class="pt" cx="3009" cy="2193" rx="4" ry="7"/><ellipse class="pt" cx="3009" cy="2220" rx="4" ry="7"/><ellipse class="pt" cx="3009" cy="2248" rx="4" ry="7"/><ellipse class="pt" cx="3009" cy="2276" rx="4" ry="7"/><ellipse class="pt" cx="3223" cy="2234" rx="4" ry="7"/>
<rect class="nb" x="3009" y="2176" width="214" height="116" rx="5"/>
<rect class="bar" x="3087" y="2179" width="32" height="110" rx="5"/>
<text class="bt" transform="translate(3103,2234) rotate(-90)" y="7" textLength="73" lengthAdjust="spacingAndGlyphs">Contour</text>
<text class="pr" x="3080" y="2198">Shape</text><text class="pr" x="3080" y="2225">Point</text><text class="pr" x="3080" y="2253">Direction</text><text class="pr" x="3080" y="2281">Distance</text>
<text class="pl" x="3126" y="2239">Contours</text>
<rect class="ico" x="3199" y="2225" width="18" height="18" rx="2"/><path class="arr" d="M3208,2228 V2239 M3203,2234 L3208,2240 L3213,2234"/>
</g>
<g id="boundary_surfaces">
<ellipse class="pt" cx="3452" cy="2234" rx="4" ry="7"/><ellipse class="pt" cx="3618" cy="2234" rx="4" ry="7"/>
<rect class="nb" x="3452" y="2141" width="166" height="186" rx="5"/>
<rect class="bar" x="3509" y="2144" width="32" height="180" rx="5"/>
<text class="bt" transform="translate(3525,2234) rotate(-90)" y="7" textLength="173" lengthAdjust="spacingAndGlyphs">Boundary Surfaces</text>
<text class="pr" x="3502" y="2239">Edges</text><text class="pl" x="3548" y="2239">Surfaces</text>
</g>
<g id="unit_x_3">
<ellipse class="pt" cx="3432" cy="2479" rx="4" ry="7"/><ellipse class="pt" cx="3618" cy="2479" rx="4" ry="7"/>
<rect class="nb" x="3432" y="2441" width="186" height="76" rx="5"/>
<rect class="bar" x="3490" y="2444" width="33" height="70" rx="5"/>
<text class="bt" transform="translate(3506.5,2479) rotate(-90)" y="7" textLength="55" lengthAdjust="spacingAndGlyphs">Unit X</text>
<text class="pr" x="3483" y="2484">Factor</text><text class="pl" x="3530" y="2484">Unit vector</text>
</g>
<g id="extrude">
<ellipse class="pt" cx="3784" cy="2309" rx="4" ry="7"/><ellipse class="pt" cx="3784" cy="2350" rx="4" ry="7"/><ellipse class="pt" cx="3976" cy="2329" rx="4" ry="7"/>
<rect class="nl" x="3784" y="2284" width="192" height="90" rx="5"/>
<rect class="bar" x="3861" y="2287" width="33" height="84" rx="5"/>
<text class="bt" transform="translate(3877.5,2329) rotate(-90)" y="7" textLength="68" lengthAdjust="spacingAndGlyphs">Extrude</text>
<text class="pr" x="3854" y="2314">Base</text><text class="pr" x="3854" y="2355">Direction</text>
<text class="pl" x="3901" y="2334">Extrusion</text>
</g>

<g id="slider_e1">
<ellipse class="pt" cx="3164" cy="2709" rx="4" ry="7"/>
<rect class="sv" x="2883" y="2695" width="281" height="28" rx="4"/>
<path class="sl" d="M2887,2695 H2997 V2723 H2887 A4,4 0 0 1 2883,2719 V2699 A4,4 0 0 1 2887,2695 Z"/>
<text class="pl" x="2891" y="2714">Number Slider</text>
<rect class="tkr" x="3007" y="2699" width="141" height="8"/>
<circle class="mk" cx="3023" cy="2709" r="4.5"/>
<text class="pl" x="3032" y="2714">0.90</text>
</g>
<g id="slider_e2">
<ellipse class="pt" cx="3164" cy="2943" rx="4" ry="7"/>
<rect class="sv" x="2883" y="2929" width="281" height="28" rx="4"/>
<path class="sl" d="M2887,2929 H2997 V2957 H2887 A4,4 0 0 1 2883,2953 V2933 A4,4 0 0 1 2887,2929 Z"/>
<text class="pl" x="2891" y="2948">Number Slider</text>
<rect class="tkr" x="3007" y="2933" width="141" height="8"/>
<circle class="mk" cx="3023" cy="2943" r="4.5"/>
<text class="pl" x="3032" y="2948">0.90</text>
</g>
<g id="slider_e3">
<ellipse class="pt" cx="3164" cy="3027" rx="4" ry="7"/>
<rect class="sv" x="2883" y="3013" width="281" height="28" rx="4"/>
<path class="sl" d="M2887,3013 H2997 V3041 H2887 A4,4 0 0 1 2883,3037 V3017 A4,4 0 0 1 2887,3013 Z"/>
<text class="pl" x="2891" y="3032">Number Slider</text>
<rect class="tkr" x="3007" y="3017" width="141" height="8"/>
<circle class="mk" cx="3035" cy="3027" r="4.5"/>
<text class="pl" x="3044" y="3032">1.8</text>
</g>
<g id="construct_point_3">
<ellipse class="pt" cx="3428" cy="2681" rx="4" ry="7"/><ellipse class="pt" cx="3428" cy="2732" rx="4" ry="7"/><ellipse class="pt" cx="3428" cy="2783" rx="4" ry="7"/><ellipse class="pt" cx="3619" cy="2732" rx="4" ry="7"/>
<rect class="nb" x="3428" y="2653" width="191" height="158" rx="5"/>
<rect class="bar" x="3531" y="2656" width="32" height="152" rx="5"/>
<text class="bt" transform="translate(3547,2732) rotate(-90)" y="7" textLength="143" lengthAdjust="spacingAndGlyphs">Construct Point</text>
<text class="pr" x="3524" y="2686">X coordinate</text><text class="pr" x="3524" y="2737">Y coordinate</text><text class="pr" x="3524" y="2788">Z coordinate</text>
<text class="pl" x="3570" y="2737">Point</text>
</g>
<g id="construct_point_4">
<ellipse class="pt" cx="3428" cy="2919" rx="4" ry="7"/><ellipse class="pt" cx="3428" cy="2970" rx="4" ry="7"/><ellipse class="pt" cx="3428" cy="3021" rx="4" ry="7"/><ellipse class="pt" cx="3619" cy="2970" rx="4" ry="7"/>
<rect class="nb" x="3428" y="2892" width="191" height="157" rx="5"/>
<rect class="bar" x="3531" y="2895" width="32" height="151" rx="5"/>
<text class="bt" transform="translate(3547,2970.5) rotate(-90)" y="7" textLength="143" lengthAdjust="spacingAndGlyphs">Construct Point</text>
<text class="pr" x="3524" y="2924">X coordinate</text><text class="pr" x="3524" y="2975">Y coordinate</text><text class="pr" x="3524" y="3026">Z coordinate</text>
<text class="pl" x="3570" y="2975">Point</text>
</g>
<g id="line">
<ellipse class="pt" cx="3790" cy="2829" rx="4" ry="7"/><ellipse class="pt" cx="3790" cy="2857" rx="4" ry="7"/><ellipse class="pt" cx="3959" cy="2843" rx="4" ry="7"/>
<rect class="nb" x="3790" y="2813" width="169" height="60" rx="5"/>
<rect class="bar" x="3877" y="2816" width="32" height="54" rx="5"/>
<text class="bt" transform="translate(3893,2843) rotate(-90)" y="7" textLength="34" lengthAdjust="spacingAndGlyphs">Line</text>
<text class="pr" x="3870" y="2834">Start Point</text><text class="pr" x="3870" y="2862">End Point</text>
<text class="pl" x="3916" y="2848">Line</text>
</g>

<g id="slider_r1">
<ellipse class="pt" cx="4370" cy="1889" rx="4" ry="7"/>
<rect class="sv" x="4089" y="1875" width="281" height="28" rx="4"/>
<path class="sl" d="M4093,1875 H4203 V1903 H4093 A4,4 0 0 1 4089,1899 V1879 A4,4 0 0 1 4093,1875 Z"/>
<text class="pl" x="4097" y="1894">Number Slider</text>
<rect class="tkr" x="4213" y="1879" width="141" height="8"/>
<circle class="mk" cx="4229" cy="1889" r="4.5"/>
<text class="pl" x="4238" y="1894">1.800</text>
</g>
<g id="unit_y_1">
<ellipse class="pt" cx="4438" cy="1887" rx="4" ry="7"/><ellipse class="pt" cx="4625" cy="1887" rx="4" ry="7"/>
<rect class="nb" x="4438" y="1850" width="187" height="73" rx="5"/>
<rect class="bar" x="4497" y="1853" width="32" height="67" rx="5"/>
<text class="bt" transform="translate(4513,1886.5) rotate(-90)" y="7" textLength="55" lengthAdjust="spacingAndGlyphs">Unit Y</text>
<text class="pr" x="4490" y="1892">Factor</text><text class="pl" x="4536" y="1892">Unit vector</text>
</g>
<g id="slider_r2">
<ellipse class="pt" cx="4370" cy="2017" rx="4" ry="7"/>
<rect class="sv" x="4089" y="2003" width="281" height="28" rx="4"/>
<path class="sl" d="M4093,2003 H4203 V2031 H4093 A4,4 0 0 1 4089,2027 V2007 A4,4 0 0 1 4093,2003 Z"/>
<text class="pl" x="4097" y="2022">Number Slider</text>
<rect class="tkr" x="4213" y="2007" width="141" height="8"/>
<circle class="mk" cx="4274" cy="2017" r="4.5"/>
<text class="pl" x="4283" y="2022">-1.800</text>
</g>
<g id="unit_x_4">
<ellipse class="pt" cx="4817" cy="2013" rx="4" ry="7"/><ellipse class="pt" cx="5001" cy="2013" rx="4" ry="7"/>
<rect class="nb" x="4817" y="1976" width="184" height="74" rx="5"/>
<rect class="bar" x="4875" y="1979" width="32" height="68" rx="5"/>
<text class="bt" transform="translate(4891,2013) rotate(-90)" y="7" textLength="55" lengthAdjust="spacingAndGlyphs">Unit X</text>
<text class="pr" x="4868" y="2018">Factor</text><text class="pl" x="4914" y="2018">Unit vector</text>
</g>
<g id="slider_r3">
<ellipse class="pt" cx="4372" cy="2162.5" rx="4" ry="7"/>
<rect class="sv" x="4090" y="2148" width="282" height="29" rx="4"/>
<path class="sl" d="M4094,2148 H4204 V2177 H4094 A4,4 0 0 1 4090,2173 V2152 A4,4 0 0 1 4094,2148 Z"/>
<text class="pl" x="4098" y="2168">Number Slider</text>
<rect class="tkr" x="4214" y="2152" width="142" height="8"/>
<path class="mk" d="M4243,2157 L4247,2162.5 L4243,2168 L4239,2162.5 Z"/>
<text class="pl" x="4252" y="2168">180</text>
</g>
<g id="rotate_axis_1">
<ellipse class="pt" cx="4398" cy="2121" rx="4" ry="7"/><ellipse class="pt" cx="4398" cy="2159" rx="4" ry="7"/><ellipse class="pt" cx="4398" cy="2198" rx="4" ry="7"/><ellipse class="pt" cx="4625" cy="2131" rx="4" ry="7"/><ellipse class="pt" cx="4625" cy="2188" rx="4" ry="7"/>
<rect class="nb" x="4398" y="2099" width="227" height="121" rx="5"/>
<rect class="bar" x="4502" y="2102" width="33" height="115" rx="5"/>
<text class="bt" transform="translate(4518.5,2159.5) rotate(-90)" y="7" textLength="100" lengthAdjust="spacingAndGlyphs">Rotate Axis</text>
<rect class="ico" x="4402" y="2149" width="17" height="21" rx="3"/><circle cx="4410.5" cy="2159.5" r="4" fill="#999" stroke="#555"/>
<text class="pr" x="4495" y="2126">Geometry</text><text class="pr" x="4495" y="2164">Angle</text><text class="pr" x="4495" y="2203">Axis</text>
<text class="pl" x="4542" y="2136">Geometry</text><text class="pl" x="4542" y="2193">Transform</text>
</g>
<g id="move_2">
<ellipse class="pt" cx="4797" cy="2131" rx="4" ry="7"/><ellipse class="pt" cx="4797" cy="2163" rx="4" ry="7"/><ellipse class="pt" cx="5001" cy="2131" rx="4" ry="7"/><ellipse class="pt" cx="5001" cy="2163" rx="4" ry="7"/>
<rect class="nb" x="4797" y="2113" width="204" height="68" rx="5"/>
<rect class="bar" x="4880" y="2116" width="33" height="62" rx="5"/>
<text class="bt" transform="translate(4896.5,2147) rotate(-90)" y="7" textLength="49" lengthAdjust="spacingAndGlyphs">Move</text>
<text class="pr" x="4873" y="2136">Geometry</text><text class="pr" x="4873" y="2168">Motion</text>
<text class="pl" x="4920" y="2136">Geometry</text><text class="pl" x="4920" y="2168">Transform</text>
</g>
<g id="move_3">
<ellipse class="pt" cx="5073" cy="2131" rx="4" ry="7"/><ellipse class="pt" cx="5073" cy="2163" rx="4" ry="7"/><ellipse class="pt" cx="5279" cy="2131" rx="4" ry="7"/><ellipse class="pt" cx="5279" cy="2163" rx="4" ry="7"/>
<rect class="nl" x="5073" y="2113" width="206" height="68" rx="5"/>
<rect class="bar" x="5158" y="2116" width="33" height="62" rx="5"/>
<text class="bt" transform="translate(5174.5,2147) rotate(-90)" y="7" textLength="49" lengthAdjust="spacingAndGlyphs">Move</text>
<text class="pr" x="5151" y="2136">Geometry</text><text class="pr" x="5151" y="2168">Motion</text>
<text class="pl" x="5198" y="2136">Geometry</text><text class="pl" x="5198" y="2168">Transform</text>
</g>
<g id="slider_r4">
<ellipse class="pt" cx="4720" cy="2311" rx="4" ry="7"/>
<rect class="sv" x="4440" y="2296" width="280" height="30" rx="4"/>
<path class="sl" d="M4444,2296 H4554 V2326 H4444 A4,4 0 0 1 4440,2322 V2300 A4,4 0 0 1 4444,2296 Z"/>
<text class="pl" x="4448" y="2316">Number Slider</text>
<rect class="tkr" x="4564" y="2300" width="140" height="8"/>
<path class="mk" d="M4637,2305.5 L4641,2311 L4637,2316.5 L4633,2311 Z"/>
<text class="pr" x="4627" y="2316">10</text>
</g>
<g id="unit_y_2">
<ellipse class="pt" cx="4817" cy="2312" rx="4" ry="7"/><ellipse class="pt" cx="5001" cy="2312" rx="4" ry="7"/>
<rect class="nb" x="4817" y="2274" width="184" height="76" rx="5"/>
<rect class="bar" x="4875" y="2277" width="32" height="70" rx="5"/>
<text class="bt" transform="translate(4891,2312) rotate(-90)" y="7" textLength="55" lengthAdjust="spacingAndGlyphs">Unit Y</text>
<text class="pr" x="4868" y="2317">Factor</text><text class="pl" x="4914" y="2317">Unit vector</text>
</g>

<g id="slider_270">
<ellipse class="pt" cx="4663" cy="2583" rx="4" ry="7"/>
<rect class="sv" x="4381" y="2568" width="282" height="30" rx="4"/>
<path class="sl" d="M4385,2568 H4495 V2598 H4385 A4,4 0 0 1 4381,2594 V2572 A4,4 0 0 1 4385,2568 Z"/>
<text class="pl" x="4389" y="2588">Number Slider</text>
<rect class="tkr" x="4505" y="2572" width="142" height="8"/>
<path class="mk" d="M4612,2577.5 L4616,2583 L4612,2588.5 L4608,2583 Z"/>
<text class="pr" x="4602" y="2588">270</text>
</g>
<g id="rotate_axis_2">
<ellipse class="pt" cx="4711" cy="2540" rx="4" ry="7"/><ellipse class="pt" cx="4711" cy="2578" rx="4" ry="7"/><ellipse class="pt" cx="4711" cy="2617" rx="4" ry="7"/><ellipse class="pt" cx="4938" cy="2550" rx="4" ry="7"/><ellipse class="pt" cx="4938" cy="2608" rx="4" ry="7"/>
<rect class="nb" x="4711" y="2517" width="227" height="122" rx="5"/>
<rect class="bar" x="4817" y="2520" width="33" height="116" rx="5"/>
<text class="bt" transform="translate(4833.5,2578) rotate(-90)" y="7" textLength="100" lengthAdjust="spacingAndGlyphs">Rotate Axis</text>
<rect class="ico" x="4715" y="2568" width="17" height="21" rx="3"/><circle cx="4723.5" cy="2578.5" r="4" fill="#999" stroke="#555"/>
<text class="pr" x="4810" y="2545">Geometry</text><text class="pr" x="4810" y="2583">Angle</text><text class="pr" x="4810" y="2622">Axis</text>
<text class="pl" x="4857" y="2555">Geometry</text><text class="pl" x="4857" y="2613">Transform</text>
</g>
<g id="move_4">
<ellipse class="pt" cx="5052" cy="2550" rx="4" ry="7"/><ellipse class="pt" cx="5052" cy="2582" rx="4" ry="7"/><ellipse class="pt" cx="5257" cy="2550" rx="4" ry="7"/><ellipse class="pt" cx="5257" cy="2582" rx="4" ry="7"/>
<rect class="nl" x="5052" y="2532" width="205" height="70" rx="5"/>
<rect class="bar" x="5136" y="2535" width="32" height="64" rx="5"/>
<text class="bt" transform="translate(5152,2567) rotate(-90)" y="7" textLength="49" lengthAdjust="spacingAndGlyphs">Move</text>
<text class="pr" x="5129" y="2555">Geometry</text><text class="pr" x="5129" y="2587">Motion</text>
<text class="pl" x="5175" y="2555">Geometry</text><text class="pl" x="5175" y="2587">Transform</text>
</g>
<g id="move_5">
<ellipse class="pt" cx="5342" cy="2654" rx="4" ry="7"/><ellipse class="pt" cx="5342" cy="2686" rx="4" ry="7"/><ellipse class="pt" cx="5546" cy="2654" rx="4" ry="7"/><ellipse class="pt" cx="5546" cy="2686" rx="4" ry="7"/>
<rect class="nl" x="5342" y="2635" width="204" height="70" rx="5"/>
<rect class="bar" x="5425" y="2638" width="33" height="64" rx="5"/>
<text class="bt" transform="translate(5441.5,2670) rotate(-90)" y="7" textLength="49" lengthAdjust="spacingAndGlyphs">Move</text>
<text class="pr" x="5418" y="2659">Geometry</text><text class="pr" x="5418" y="2691">Motion</text>
<text class="pl" x="5465" y="2659">Geometry</text><text class="pl" x="5465" y="2691">Transform</text>
</g>
<g id="slider_m18">
<ellipse class="pt" cx="4663" cy="2738.5" rx="4" ry="7"/>
<rect class="sv" x="4381" y="2724" width="282" height="29" rx="4"/>
<path class="sl" d="M4385,2724 H4495 V2753 H4385 A4,4 0 0 1 4381,2749 V2728 A4,4 0 0 1 4385,2724 Z"/>
<text class="pl" x="4389" y="2744">Number Slider</text>
<rect class="tkr" x="4505" y="2728" width="142" height="8"/>
<circle class="mk" cx="4565" cy="2738.5" r="4.5"/>
<text class="pl" x="4574" y="2744">-1.800</text>
</g>
<g id="unit_y_3">
<ellipse class="pt" cx="4752" cy="2737" rx="4" ry="7"/><ellipse class="pt" cx="4938" cy="2737" rx="4" ry="7"/>
<rect class="nb" x="4752" y="2698" width="186" height="75" rx="5"/>
<rect class="bar" x="4812" y="2701" width="32" height="69" rx="5"/>
<text class="bt" transform="translate(4828,2735.5) rotate(-90)" y="7" textLength="55" lengthAdjust="spacingAndGlyphs">Unit Y</text>
<text class="pr" x="4805" y="2742">Factor</text><text class="pl" x="4851" y="2742">Unit vector</text>
</g>
<g id="slider_36">
<ellipse class="pt" cx="4663" cy="2866" rx="4" ry="7"/>
<rect class="sv" x="4381" y="2851" width="282" height="30" rx="4"/>
<path class="sl" d="M4385,2851 H4495 V2881 H4385 A4,4 0 0 1 4381,2877 V2855 A4,4 0 0 1 4385,2851 Z"/>
<text class="pl" x="4389" y="2871">Number Slider</text>
<rect class="tkr" x="4505" y="2855" width="142" height="8"/>
<circle class="mk" cx="4534" cy="2866" r="4.5"/>
<text class="pl" x="4543" y="2871">3.600</text>
</g>
<g id="unit_y_4">
<ellipse class="pt" cx="4752" cy="2864" rx="4" ry="7"/><ellipse class="pt" cx="4938" cy="2864" rx="4" ry="7"/>
<rect class="nb" x="4752" y="2826" width="186" height="76" rx="5"/>
<rect class="bar" x="4812" y="2829" width="32" height="70" rx="5"/>
<text class="bt" transform="translate(4828,2864) rotate(-90)" y="7" textLength="55" lengthAdjust="spacingAndGlyphs">Unit Y</text>
<text class="pr" x="4805" y="2869">Factor</text><text class="pl" x="4851" y="2869">Unit vector</text>
</g>

<g id="slider_m18b">
<ellipse class="pt" cx="4637" cy="3176.5" rx="4" ry="7"/>
<rect class="sv" x="4354" y="3162" width="283" height="29" rx="4"/>
<path class="sl" d="M4358,3162 H4468 V3191 H4358 A4,4 0 0 1 4354,3187 V3166 A4,4 0 0 1 4358,3162 Z"/>
<text class="pl" x="4362" y="3182">Number Slider</text>
<rect class="tkr" x="4478" y="3166" width="143" height="8"/>
<circle class="mk" cx="4546" cy="3176.5" r="4.5"/>
<text class="pl" x="4555" y="3182">-1.800</text>
</g>
<g id="unit_x_5">
<ellipse class="pt" cx="4775" cy="3172" rx="4" ry="7"/><ellipse class="pt" cx="4961" cy="3172" rx="4" ry="7"/>
<rect class="nb" x="4775" y="3135" width="186" height="75" rx="5"/>
<rect class="bar" x="4834" y="3138" width="31" height="69" rx="5"/>
<text class="bt" transform="translate(4849.5,3172.5) rotate(-90)" y="7" textLength="55" lengthAdjust="spacingAndGlyphs">Unit X</text>
<text class="pr" x="4827" y="3177">Factor</text><text class="pl" x="4872" y="3177">Unit vector</text>
</g>
<g id="slider_90">
<ellipse class="pt" cx="4637" cy="3328" rx="4" ry="7"/>
<rect class="sv" x="4354" y="3313" width="283" height="30" rx="4"/>
<path class="sl" d="M4358,3313 H4468 V3343 H4358 A4,4 0 0 1 4354,3339 V3317 A4,4 0 0 1 4358,3313 Z"/>
<text class="pl" x="4362" y="3333">Number Slider</text>
<rect class="tkr" x="4478" y="3317" width="143" height="8"/>
<path class="mk" d="M4495,3322.5 L4499,3328 L4495,3333.5 L4491,3328 Z"/>
<text class="pl" x="4504" y="3333">90</text>
</g>
<g id="rotate_axis_3">
<ellipse class="pt" cx="4733" cy="3287" rx="4" ry="7"/><ellipse class="pt" cx="4733" cy="3327" rx="4" ry="7"/><ellipse class="pt" cx="4733" cy="3365" rx="4" ry="7"/><ellipse class="pt" cx="4961" cy="3297" rx="4" ry="7"/><ellipse class="pt" cx="4961" cy="3355" rx="4" ry="7"/>
<rect class="nb" x="4733" y="3265" width="228" height="122" rx="5"/>
<rect class="bar" x="4839" y="3268" width="32" height="116" rx="5"/>
<text class="bt" transform="translate(4855,3326) rotate(-90)" y="7" textLength="100" lengthAdjust="spacingAndGlyphs">Rotate Axis</text>
<rect class="ico" x="4737" y="3316" width="17" height="21" rx="3"/><circle cx="4745.5" cy="3326.5" r="4" fill="#999" stroke="#555"/>
<text class="pr" x="4832" y="3292">Geometry</text><text class="pr" x="4832" y="3332">Angle</text><text class="pr" x="4832" y="3370">Axis</text>
<text class="pl" x="4878" y="3302">Geometry</text><text class="pl" x="4878" y="3360">Transform</text>
</g>
<g id="move_6">
<ellipse class="pt" cx="5098" cy="3230" rx="4" ry="7"/><ellipse class="pt" cx="5098" cy="3262" rx="4" ry="7"/><ellipse class="pt" cx="5302" cy="3230" rx="4" ry="7"/><ellipse class="pt" cx="5302" cy="3262" rx="4" ry="7"/>
<rect class="nl" x="5098" y="3210" width="204" height="70" rx="5"/>
<rect class="bar" x="5181" y="3213" width="33" height="64" rx="5"/>
<text class="bt" transform="translate(5197.5,3245) rotate(-90)" y="7" textLength="49" lengthAdjust="spacingAndGlyphs">Move</text>
<text class="pr" x="5174" y="3235">Geometry</text><text class="pr" x="5174" y="3267">Motion</text>
<text class="pl" x="5221" y="3235">Geometry</text><text class="pl" x="5221" y="3267">Transform</text>
</g>
<g id="move_7">
<ellipse class="pt" cx="5402" cy="3331" rx="4" ry="7"/><ellipse class="pt" cx="5402" cy="3362" rx="4" ry="7"/><ellipse class="pt" cx="5609" cy="3331" rx="4" ry="7"/><ellipse class="pt" cx="5609" cy="3362" rx="4" ry="7"/>
<rect class="nl" x="5402" y="3312" width="207" height="70" rx="5"/>
<rect class="bar" x="5487" y="3315" width="32" height="64" rx="5"/>
<text class="bt" transform="translate(5503,3347) rotate(-90)" y="7" textLength="49" lengthAdjust="spacingAndGlyphs">Move</text>
<text class="pr" x="5480" y="3336">Geometry</text><text class="pr" x="5480" y="3367">Motion</text>
<text class="pl" x="5526" y="3336">Geometry</text><text class="pl" x="5526" y="3367">Transform</text>
</g>
<g id="slider_36b">
<ellipse class="pt" cx="4964" cy="3453" rx="4" ry="7"/>
<rect class="sv" x="4682" y="3438" width="282" height="30" rx="4"/>
<path class="sl" d="M4686,3438 H4796 V3468 H4686 A4,4 0 0 1 4682,3464 V3442 A4,4 0 0 1 4686,3438 Z"/>
<text class="pl" x="4690" y="3458">Number Slider</text>
<rect class="tkr" x="4806" y="3442" width="142" height="8"/>
<circle class="mk" cx="4835" cy="3453" r="4.5"/>
<text class="pl" x="4844" y="3458">3.600</text>
</g>
<g id="unit_y_5">
<ellipse class="pt" cx="5098" cy="3449" rx="4" ry="7"/><ellipse class="pt" cx="5283" cy="3449" rx="4" ry="7"/>
<rect class="nb" x="5098" y="3412" width="185" height="75" rx="5"/>
<rect class="bar" x="5155" y="3415" width="33" height="69" rx="5"/>
<text class="bt" transform="translate(5171.5,3449.5) rotate(-90)" y="7" textLength="55" lengthAdjust="spacingAndGlyphs">Unit Y</text>
<text class="pr" x="5148" y="3454">Factor</text><text class="pl" x="5195" y="3454">Unit vector</text>
</g>
</g>
</g>
</svg>
